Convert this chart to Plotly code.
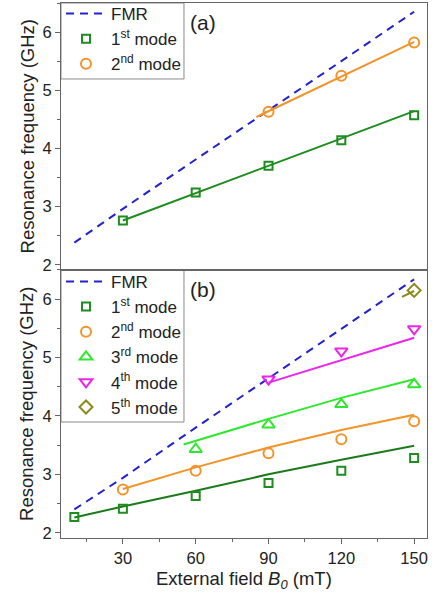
import plotly.graph_objects as go

# ---------------- data ----------------
# panel (a)
fmr_a_x = [10, 30, 60, 90, 120, 150]
fmr_a_y = [2.38, 2.96, 3.81, 4.65, 5.50, 6.35]
a_mode1_x = [30, 60, 90, 120, 150]
a_mode1_y = [2.76, 3.24, 3.70, 4.14, 4.57]
a_fit1_x = [30, 90, 150]
a_fit1_y = [2.76, 3.70, 4.64]
a_mode2_x = [90, 120, 150]
a_mode2_y = [4.63, 5.25, 5.82]
a_fit2_x = [85, 150]
a_fit2_y = [4.54, 5.83]

# panel (b)
fmr_b_x = [10, 30, 60, 90, 120, 150]
fmr_b_y = [2.40, 2.94, 3.80, 4.64, 5.49, 6.34]
b_mode1_x = [10, 30, 60, 90, 120, 150]
b_mode1_y = [2.27, 2.41, 2.63, 2.85, 3.06, 3.28]
b_fit1_x = [10, 30, 60, 90, 120, 150]
b_fit1_y = [2.26, 2.45, 2.72, 3.00, 3.25, 3.49]
b_mode2_x = [30, 60, 90, 120, 150]
b_mode2_y = [2.74, 3.06, 3.36, 3.60, 3.91]
b_fit2_x = [30, 60, 90, 120, 150]
b_fit2_y = [2.75, 3.12, 3.46, 3.76, 4.02]
b_mode3_x = [60, 90, 120, 150]
b_mode3_y = [3.43, 3.85, 4.20, 4.54]
b_fit3_x = [55, 90, 120, 150]
b_fit3_y = [3.51, 3.95, 4.31, 4.63]
b_mode4_x = [90, 120, 150]
b_mode4_y = [4.63, 5.11, 5.49]
b_fit4_x = [90, 150]
b_fit4_y = [4.57, 5.34]
b_mode5_x = [150]
b_mode5_y = [6.15]
b_fit5_x = [145, 150]
b_fit5_y = [6.04, 6.14]

x_ticks = [30, 60, 90, 120, 150]
y_ticks = [2, 3, 4, 5, 6]

# ---------------- style ----------------
FONT = "Liberation Sans, Arial, sans-serif"
C_FMR = "#2323cc"
C_M1 = "#1f8c1f"
C_M1_LINE_B = "#1c7a1c"
C_M2 = "#f39328"
C_M3 = "#2ee82e"
C_M4 = "#ec24ec"
C_M5 = "#8a8a1a"
AXC = "#666666"
TXT = "#222222"
BOXC = "#8a8a8a"

fig = go.Figure()


def line(x, y, color, xa, ya, dash=None, width=2):
    fig.add_trace(go.Scatter(x=x, y=y, mode="lines", xaxis=xa, yaxis=ya,
                             line=dict(color=color, width=width, dash=dash),
                             showlegend=False, hoverinfo="skip"))


def marks(x, y, color, symbol, size, name, xa, ya, legend):
    fig.add_trace(go.Scatter(x=x, y=y, mode="markers", xaxis=xa, yaxis=ya, name=name,
                             marker=dict(symbol=symbol, size=size, color=color,
                                         line=dict(color=color, width=2)),
                             legend=legend))


# panel (a): top -> x2 / y2
fig.add_trace(go.Scatter(x=fmr_a_x, y=fmr_a_y, mode="lines", xaxis="x2", yaxis="y2", name="FMR",
                         line=dict(color=C_FMR, width=2, dash="8px,6px"), legend="legend"))
line(a_fit1_x, a_fit1_y, C_M1, "x2", "y2")
line(a_fit2_x, a_fit2_y, C_M2, "x2", "y2")
marks(a_mode1_x, a_mode1_y, C_M1, "square-open", 8, "1<sup>st</sup> mode", "x2", "y2", "legend")
marks(a_mode2_x, a_mode2_y, C_M2, "circle-open", 10, "2<sup>nd</sup> mode", "x2", "y2", "legend")

# panel (b): bottom -> x / y
fig.add_trace(go.Scatter(x=fmr_b_x, y=fmr_b_y, mode="lines", xaxis="x", yaxis="y", name="FMR",
                         line=dict(color=C_FMR, width=2, dash="8px,6px"), legend="legend2"))
line(b_fit1_x, b_fit1_y, C_M1_LINE_B, "x", "y")
line(b_fit2_x, b_fit2_y, C_M2, "x", "y")
line(b_fit3_x, b_fit3_y, C_M3, "x", "y")
line(b_fit4_x, b_fit4_y, C_M4, "x", "y")
line(b_fit5_x, b_fit5_y, C_M5, "x", "y")
marks(b_mode1_x, b_mode1_y, C_M1, "square-open", 8, "1<sup>st</sup> mode", "x", "y", "legend2")
marks(b_mode2_x, b_mode2_y, C_M2, "circle-open", 10, "2<sup>nd</sup> mode", "x", "y", "legend2")
marks(b_mode3_x, b_mode3_y, C_M3, "triangle-up-open", 11, "3<sup>rd</sup> mode", "x", "y", "legend2")
marks(b_mode4_x, b_mode4_y, C_M4, "triangle-down-open", 11, "4<sup>th</sup> mode", "x", "y", "legend2")
marks(b_mode5_x, b_mode5_y, C_M5, "diamond-open", 10, "5<sup>th</sup> mode", "x", "y", "legend2")

XR = [4.5, 155.3]
YR = [1.91, 6.5]
SPLIT = 0.501
PLOT_H = 535.0

common_x = dict(range=XR, showline=True, linecolor=AXC, linewidth=1.2, mirror=True,
                showgrid=False, zeroline=False, tickvals=x_ticks)
common_y = dict(range=YR, showline=True, linecolor=AXC, linewidth=1.2, mirror=True,
                showgrid=False, zeroline=False, tickvals=y_ticks,
                ticks="outside", ticklen=5, tickcolor=AXC,
                minor=dict(ticks="outside", ticklen=3, tickcolor=AXC, dtick=0.5, tick0=0),
                tickfont=dict(family=FONT, size=16.5, color=TXT))

legend_common = dict(xanchor="left", yanchor="top", xref="paper", yref="paper",
                     bgcolor="rgba(0,0,0,0)", borderwidth=0,
                     font=dict(family=FONT, size=17, color=TXT), itemwidth=40,
                     tracegroupgap=0)

fig.update_layout(
    width=435, height=594,
    margin=dict(l=61, r=8, t=3, b=56, autoexpand=False),
    paper_bgcolor="white", plot_bgcolor="white",
    font=dict(family=FONT, color=TXT),
    xaxis=dict(**common_x, anchor="y", domain=[0, 1], ticks="outside", ticklen=5, tickcolor=AXC,
               minor=dict(ticks="outside", ticklen=3, tickcolor=AXC, dtick=15, tick0=0),
               tickfont=dict(family=FONT, size=16.5, color=TXT)),
    yaxis=dict(**common_y, anchor="x", domain=[0, SPLIT]),
    xaxis2=dict(**common_x, anchor="y2", domain=[0, 1], showticklabels=False, ticks=""),
    yaxis2=dict(**common_y, anchor="x2", domain=[SPLIT, 1]),
    legend=dict(**legend_common, x=0, y=1 + 7 / PLOT_H),
    legend2=dict(**legend_common, x=0, y=SPLIT + 6 / PLOT_H),
    shapes=[
        dict(type="rect", xref="paper", yref="paper", x0=0, x1=0.336, y0=0.858, y1=1,
             line=dict(color=BOXC, width=1), fillcolor="white", layer="below"),
        dict(type="rect", xref="paper", yref="paper", x0=0, x1=0.336, y0=0.2168, y1=SPLIT,
             line=dict(color=BOXC, width=1), fillcolor="white", layer="below"),
    ],
    annotations=[
        dict(text="(a)", xref="paper", yref="paper", x=0, y=1, xshift=127, yshift=-6,
             xanchor="left", yanchor="top", showarrow=False,
             font=dict(family=FONT, size=21, color=TXT)),
        dict(text="(b)", xref="paper", yref="paper", x=0, y=SPLIT, xshift=127, yshift=-6,
             xanchor="left", yanchor="top", showarrow=False,
             font=dict(family=FONT, size=21, color=TXT)),
        dict(text="Resonance frequency (GHz)", xref="paper", yref="paper", x=0,
             y=(1 + SPLIT) / 2, xshift=-34, textangle=-90, showarrow=False,
             xanchor="center", yanchor="middle", font=dict(family=FONT, size=18.5, color=TXT)),
        dict(text="Resonance frequency (GHz)", xref="paper", yref="paper", x=0,
             y=SPLIT / 2, xshift=-34, textangle=-90, showarrow=False,
             xanchor="center", yanchor="middle", font=dict(family=FONT, size=18.5, color=TXT)),
        dict(text="External field <i>B</i><sub><i>0</i></sub> (mT)", xref="paper", yref="paper",
             x=0.5, y=0, yshift=-42, showarrow=False, xanchor="center", yanchor="middle",
             font=dict(family=FONT, size=18.5, color=TXT)),
    ],
)

fig.write_html("out.html", config={"displayModeBar": False},
               post_script="document.body.style.margin='0';document.body.style.padding='0';")
